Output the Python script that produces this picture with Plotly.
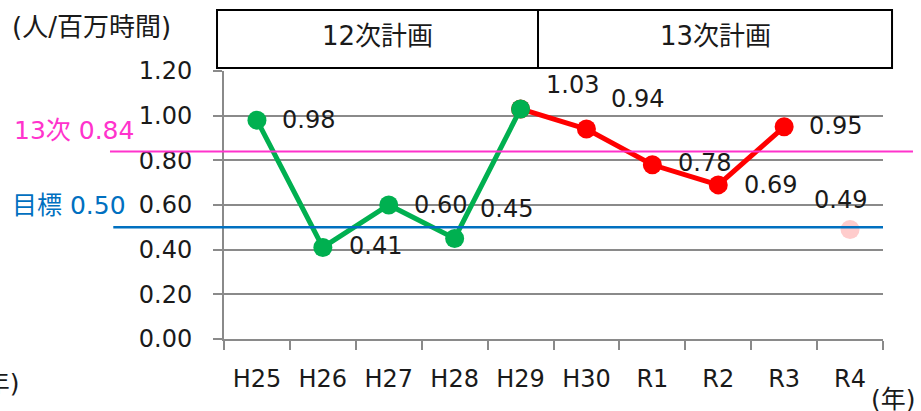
import plotly.graph_objects as go

# Fiscal years on the category axis
years = ["H25", "H26", "H27", "H28", "H29", "H30", "R1", "R2", "R3", "R4"]

# Accident frequency rate (persons per million hours)
plan12_years = ["H25", "H26", "H27", "H28", "H29"]
plan12_rate = [0.98, 0.41, 0.60, 0.45, 1.03]
plan13_years = ["H29", "H30", "R1", "R2", "R3"]
plan13_rate = [1.03, 0.94, 0.78, 0.69, 0.95]
latest_year = ["R4"]
latest_rate = [0.49]

# Reference levels
plan13_level = 0.84
goal_level = 0.50

# Label placement (pixel offsets from each point: dx, dy)
label_offsets = {
    "H25": (23, 0), "H26": (24, 1), "H27": (23, 0), "H28": (23, 30),
    "H29": (23, 24), "H30": (23, 30), "R1": (24, 2), "R2": (24, 0),
    "R3": (23, 1), "R4": (-38, 30),
}

FONT = "DejaVu Sans, Noto Sans CJK JP"
GREEN = "#00B050"
RED = "#FF0000"
PINK = "#FF33CC"
BLUE = "#0070C0"
GRID = "#8A8A8A"
TXT = "#1A1A1A"

fig = go.Figure()

fig.add_trace(go.Scatter(
    x=plan13_years, y=plan13_rate, mode="lines+markers",
    line=dict(color=RED, width=5), marker=dict(color=RED, size=19),
    showlegend=False, cliponaxis=False))
fig.add_trace(go.Scatter(
    x=plan12_years, y=plan12_rate, mode="lines+markers",
    line=dict(color=GREEN, width=5), marker=dict(color=GREEN, size=19),
    showlegend=False, cliponaxis=False))
fig.add_trace(go.Scatter(
    x=latest_year, y=latest_rate, mode="markers",
    marker=dict(color="#FFCCCC", size=19),
    showlegend=False, cliponaxis=False))

# Value labels
all_pts = {}
for xs, ys in ((plan12_years, plan12_rate), (plan13_years, plan13_rate), (latest_year, latest_rate)):
    for x, y in zip(xs, ys):
        all_pts[x] = y
for x, y in all_pts.items():
    dx, dy = label_offsets[x]
    fig.add_annotation(x=x, y=y, xref="x", yref="y", text=f"{y:.2f}",
                       showarrow=False, xanchor="left", yanchor="middle",
                       xshift=dx, yshift=dy,
                       font=dict(family=FONT, size=24, color=TXT))

# Reference lines extending past the plot area
fig.add_shape(type="line", xref="paper", yref="y", x0=-0.173, x1=1.0455,
              y0=plan13_level, y1=plan13_level, line=dict(color=PINK, width=2))
fig.add_shape(type="line", xref="paper", yref="y", x0=-0.168, x1=1.0,
              y0=goal_level, y1=goal_level, line=dict(color=BLUE, width=2.5))
fig.add_annotation(xref="paper", yref="y", x=-0.1335, y=plan13_level, yshift=21,
                   text=f"13次 {plan13_level:.2f}", showarrow=False,
                   xanchor="right", yanchor="middle",
                   font=dict(family=FONT, size=25, color=PINK))
fig.add_annotation(xref="paper", yref="y", x=-0.1457, y=goal_level, yshift=22,
                   text=f"目標 {goal_level:.2f}", showarrow=False,
                   xanchor="right", yanchor="middle",
                   font=dict(family=FONT, size=25, color=BLUE))

# Plan period boxes above the plot
for x0, x1, label in ((-0.0106, 0.4765, "12次計画"), (0.4765, 1.0137, "13次計画")):
    fig.add_shape(type="rect", xref="paper", yref="paper", x0=x0, x1=x1,
                  y0=1.0112, y1=1.2276, line=dict(color="#000000", width=2),
                  fillcolor="white")
    fig.add_annotation(xref="paper", yref="paper", x=(x0 + x1) / 2, y=1.13,
                       text=label, showarrow=False, xanchor="center", yanchor="middle",
                       font=dict(family=FONT, size=26, color=TXT))

# Unit captions
fig.add_annotation(xref="paper", yref="paper", x=-0.3247, y=1.164,
                   text="(人/百万時間)", showarrow=False, xanchor="left", yanchor="middle",
                   font=dict(family=FONT, size=26, color=TXT))
fig.add_annotation(xref="paper", yref="paper", x=-0.3065, y=-0.165,
                   text="(年)", showarrow=False, xanchor="right", yanchor="middle",
                   font=dict(family=FONT, size=25, color=TXT))
fig.add_annotation(xref="paper", yref="paper", x=0.978, y=-0.225,
                   text="(年)", showarrow=False, xanchor="left", yanchor="middle",
                   font=dict(family=FONT, size=25, color=TXT))

fig.update_xaxes(
    type="category", categoryorder="array", categoryarray=years,
    range=[-0.5, len(years) - 0.5], tickson="boundaries",
    ticks="outside", ticklen=9, tickwidth=2, tickcolor=GRID,
    showline=True, linecolor=GRID, linewidth=2, showgrid=False,
    tickfont=dict(family=FONT, size=24, color=TXT), ticklabelstandoff=17)
fig.update_yaxes(
    range=[0, 1.2], dtick=0.2, tickformat=".2f",
    ticks="outside", ticklen=9, tickwidth=2, tickcolor=GRID,
    showline=True, linecolor=GRID, linewidth=2,
    showgrid=True, gridcolor=GRID, gridwidth=2, zeroline=False,
    tickfont=dict(family=FONT, size=24, color=TXT), ticklabelstandoff=16)

fig.update_layout(
    width=921, height=411,
    margin=dict(l=224, r=38, t=71, b=72),
    paper_bgcolor="white", plot_bgcolor="white",
    showlegend=False)

fig.write_html("out.html")
